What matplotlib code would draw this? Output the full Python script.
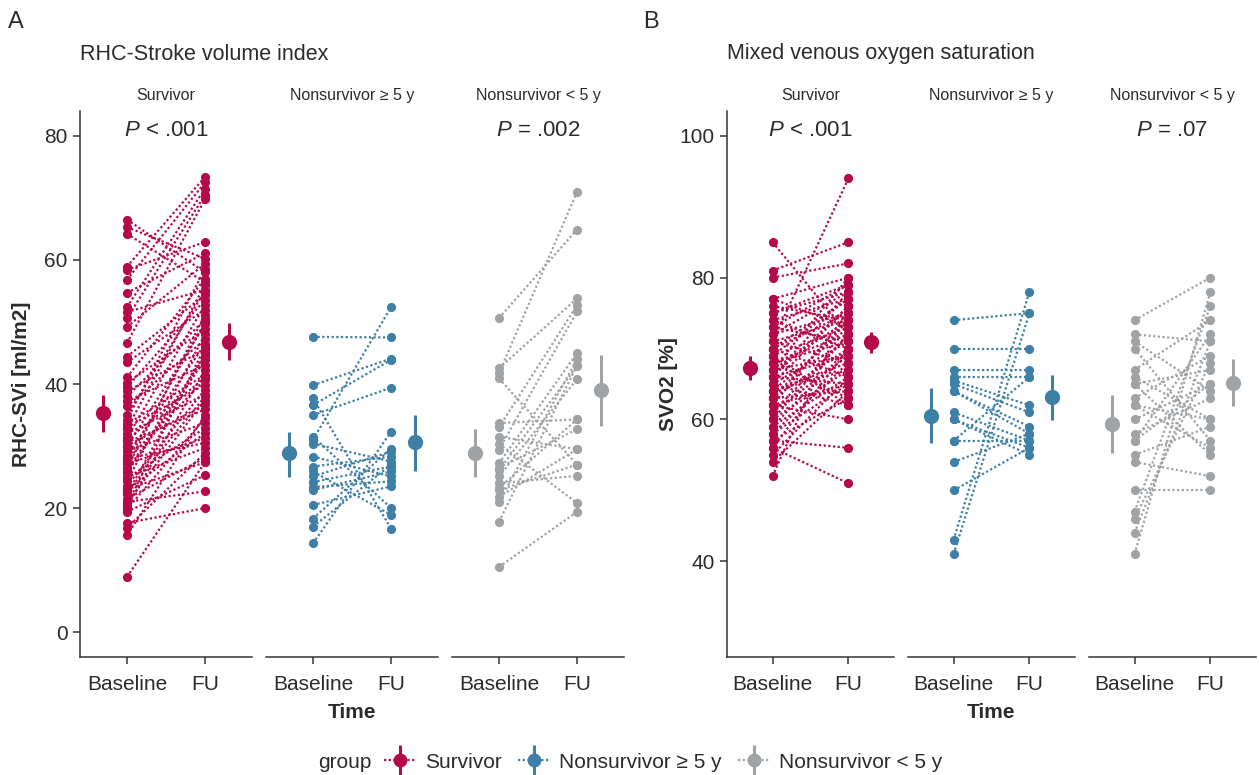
import matplotlib
matplotlib.use("Agg")
import matplotlib.pyplot as plt
from matplotlib.lines import Line2D
from matplotlib.legend_handler import HandlerTuple

plt.rcParams['font.family'] = ['Liberation Sans', 'DejaVu Sans']
plt.rcParams['mathtext.fontset'] = 'custom'
plt.rcParams['mathtext.it'] = 'Liberation Sans:italic'
plt.rcParams['mathtext.rm'] = 'Liberation Sans'

# ---------------- data ----------------
groups = ["Survivor", "Nonsurvivor \u2265 5 y", "Nonsurvivor < 5 y"]
time_labels = ["Baseline", "FU"]
colors = ["#B50A4A", "#3E7FA6", "#A0A3A6"]

# Panel A: RHC-Stroke volume index (paired baseline / FU)
svi_base_surv = [66.5, 65.3, 64.2, 58.9, 58.4, 56.8, 54.7, 52.4, 51.6, 50.6, 49.2, 46.6, 44.4, 43.5,
                 41.1, 40.2, 39.5, 38.8, 38.0, 37.2, 36.4,
                 34.2, 33.5, 32.8, 32.0, 31.3, 30.6, 29.9, 29.2, 28.5, 27.8, 27.1, 26.4, 25.7, 25.0,
                 24.3, 23.6, 22.9, 22.2, 21.5, 20.8, 20.1, 19.4,
                 33.0, 30.0, 28.0, 26.0, 24.8, 23.0, 21.0, 19.8, 17.6, 16.8, 15.6, 8.9,
                 35.0, 31.0, 27.5, 22.5, 20.5]
svi_fu_surv = [58.0, 60.2, 56.4, 73.4, 62.9, 72.5, 61.1, 71.5, 55.2, 70.5, 59.4, 69.8, 54.4, 52.0,
               57.0, 48.8, 53.6, 45.6, 50.4, 43.1, 47.2,
               58.6, 41.5, 56.0, 38.3, 52.8, 35.9, 49.6, 33.7, 46.4, 40.7, 31.3, 51.2, 43.9, 29.7,
               48.0, 39.1, 32.1, 45.0, 28.1, 37.5, 42.3, 25.3,
               39.9, 36.7, 30.5, 44.5, 32.9, 27.4, 22.7, 34.5, 20.0, 28.9, 35.0, 27.4,
               55.0, 41.0, 50.0, 38.0, 46.0]
svi_base_ns5 = [47.6, 39.8, 37.7, 36.6, 35.0, 31.5, 31.0, 30.4, 28.3, 26.7, 25.9, 25.1, 24.2,
                23.4, 22.9, 20.5, 18.3, 17.0, 14.3]
svi_fu_ns5 = [47.5, 44.1, 16.7, 43.9, 39.4, 20.0, 52.4, 27.5, 25.1, 28.3, 18.9, 29.1, 26.7,
              24.3, 25.9, 23.5, 29.6, 27.0, 32.3]
svi_base_nsl = [50.6, 42.5, 41.7, 40.9, 33.7, 33.0, 31.5, 30.4, 29.4, 27.2, 26.5, 26.1, 25.1,
                24.0, 23.2, 22.9, 21.8, 21.0, 17.8, 10.5]
svi_fu_nsl = [64.9, 53.8, 71.0, 27.0, 34.3, 52.7, 29.5, 20.8, 51.7, 45.0, 32.7, 42.9, 40.8,
              25.2, 34.3, 27.0, 29.5, 44.0, 43.0, 19.4]
# group means with 95% CI (baseline, FU) per group
svi_mean = [(35.3, 46.8), (28.8, 30.6), (28.9, 39.0)]
svi_lo = [(32.3, 43.9), (25.0, 26.0), (25.0, 33.2)]
svi_hi = [(38.2, 49.8), (32.3, 35.0), (32.7, 44.7)]

# Panel B: mixed venous oxygen saturation
svo2_base_surv = [85, 81, 80, 52, 77, 76, 75, 74, 73, 72, 71, 70, 69, 68, 67, 66, 65, 64, 63, 62,
                  61, 60, 59, 58, 57, 56, 55, 54,
                  77, 75, 73, 72, 71, 70, 70, 69, 68, 68, 67, 67, 66, 66, 65, 65, 64, 64, 63, 63,
                  62, 61, 60, 59, 58, 57, 56, 66, 69, 71, 62, 74]
svo2_fu_surv = [72, 85, 82, 76, 80, 74, 78, 70, 79, 75, 94, 77, 73, 71, 80, 69, 76, 68, 74, 60,
                72, 67, 70, 65, 56, 51, 66, 64,
                73, 79, 71, 78, 68, 75, 66, 77, 72, 63, 74, 69, 76, 65, 71, 62, 73, 67, 70, 64,
                75, 69, 72, 66, 68, 63, 70, 78, 62, 74, 65, 77]
svo2_base_ns5 = [74, 70, 67, 66, 65.5, 65, 64, 64, 61, 60, 60, 57, 57, 54, 50, 43, 41]
svo2_fu_ns5 = [75, 70, 67, 66, 62, 61, 59, 58, 57, 56, 55, 57, 66, 58, 56, 78, 75]
svo2_base_nsl = [74, 72, 71, 70, 67, 66, 65, 63, 62, 60, 58, 57, 55, 54, 50, 47, 46, 44, 41, 65, 62, 57]
svo2_fu_nsl = [80, 71, 64, 57, 74, 60, 55, 69, 56, 65, 63, 72, 59, 52, 50, 76, 68, 71, 78, 67, 60, 65]
svo2_mean = [(67.3, 70.9), (60.5, 63.1), (59.4, 65.2)]
svo2_lo = [(65.6, 69.4), (56.7, 59.9), (55.3, 61.9)]
svo2_hi = [(69.0, 72.3), (64.5, 66.3), (63.5, 68.5)]

p_labels_A = ["$P$ < .001", "", "$P$ = .002"]
p_labels_B = ["$P$ < .001", "", "$P$ = .07"]

# ---------------- figure ----------------
W, H = 1259, 775
fig = plt.figure(figsize=(W / 100, H / 100), dpi=100)
TXT = "#2b2b2b"
AX = "#333333"


def px_axes(x0, x1, y_top=111, y_bot=657):
    return fig.add_axes([x0 / W, (H - y_bot) / H, (x1 - x0) / W, (y_bot - y_top) / H])


def draw_panel(xs, base_list, fu_list, means, los, his, ylim, yticks, p_labels):
    axes = []
    for i, (x0, x1) in enumerate(xs):
        ax = px_axes(x0, x1)
        c = colors[i]
        b, f = base_list[i], fu_list[i]
        for bv, fv in zip(b, f):
            ax.plot([1, 2], [bv, fv], ls=(0, (1, 1.1)), lw=1.6, color=c, zorder=2)
        ax.plot([1] * len(b), b, 'o', ms=6.6, color=c, mec='none', zorder=3)
        ax.plot([2] * len(f), f, 'o', ms=6.6, color=c, mec='none', zorder=3)
        for j, xm in enumerate([0.7, 2.3]):
            ax.plot([xm, xm], [los[i][j], his[i][j]], color=c, lw=2.2, solid_capstyle='butt', zorder=3)
            ax.plot([xm], [means[i][j]], 'o', ms=11, color=c, mec='none', zorder=4)
        ax.set_xlim(0.4, 2.6)
        ax.set_ylim(*ylim)
        ax.set_xticks([1, 2])
        ax.set_xticklabels(time_labels)
        ax.set_yticks(yticks)
        for s in ['top', 'right']:
            ax.spines[s].set_visible(False)
        ax.spines['bottom'].set_color(AX)
        ax.spines['bottom'].set_linewidth(1.1)
        ax.spines['left'].set_color(AX)
        ax.spines['left'].set_linewidth(1.1)
        ax.tick_params(axis='both', colors=AX, labelcolor=TXT, labelsize=15, length=5, width=1.1)
        ax.tick_params(axis='x', pad=8)
        ax.tick_params(axis='y', pad=4)
        if i > 0:
            ax.spines['left'].set_visible(False)
            ax.tick_params(axis='y', left=False, labelleft=False)
        ax.text(0.5, 1 + 16 / 546, groups[i], transform=ax.transAxes, ha='center', va='center',
                fontsize=11.5, color=TXT)
        if p_labels[i]:
            ax.text(1.5, ylim[1] - (ylim[1] - ylim[0]) * 19 / 546, p_labels[i], ha='center', va='center',
                    fontsize=16, color=TXT)
        axes.append(ax)
    return axes


axA = draw_panel([(80, 252), (266, 438), (452, 624)],
                 [svi_base_surv, svi_base_ns5, svi_base_nsl],
                 [svi_fu_surv, svi_fu_ns5, svi_fu_nsl],
                 svi_mean, svi_lo, svi_hi, (-4, 84), [0, 20, 40, 60, 80], p_labels_A)
axB = draw_panel([(727, 894), (908, 1075), (1089, 1256)],
                 [svo2_base_surv, svo2_base_ns5, svo2_base_nsl],
                 [svo2_fu_surv, svo2_fu_ns5, svo2_fu_nsl],
                 svo2_mean, svo2_lo, svo2_hi, (26.5, 103.5), [40, 60, 80, 100], p_labels_B)


def ftext(x, y, s, **kw):
    fig.text(x / W, 1 - y / H, s, **kw)


ftext(8, 22, "A", fontsize=17, color=TXT, ha='left', va='center')
ftext(643, 22, "B", fontsize=17, color=TXT, ha='left', va='center')
ftext(80, 54, "RHC-Stroke volume index", fontsize=15.5, color=TXT, ha='left', va='center')
ftext(727, 54, "Mixed venous oxygen saturation", fontsize=15.5, color=TXT, ha='left', va='center')
ftext(22, 384, "RHC-SVi [ml/m2]", fontsize=15, fontweight='bold', color=TXT, rotation=90,
      ha='center', va='center')
ftext(668, 384, "SVO2 [%]", fontsize=15, fontweight='bold', color=TXT, rotation=90,
      ha='center', va='center')
ftext(352, 713, "Time", fontsize=15, fontweight='bold', color=TXT, ha='center', va='center')
ftext(991, 713, "Time", fontsize=15, fontweight='bold', color=TXT, ha='center', va='center')

# legend
handles = []
for c in colors:
    h_line = Line2D([], [], ls=(0, (1, 1.1)), lw=1.6, color=c)
    h_bar = Line2D([], [], ls='none', marker='|', ms=22, mew=2.2, color=c)
    h_pt = Line2D([], [], ls='none', marker='o', ms=10, color=c, mec='none')
    handles.append((h_line, h_bar, h_pt))
ftext(318, 762, "group", fontsize=15, color=TXT, ha='left', va='center')
leg = fig.legend(handles, groups, loc='center', bbox_to_anchor=((380 + 946) / 2 / W, 1 - 762 / H),
                 ncol=3, frameon=False, fontsize=15, handlelength=1.5, handletextpad=0.45,
                 columnspacing=0.8, handler_map={tuple: HandlerTuple(ndivide=1, pad=0)})
for t in leg.get_texts():
    t.set_color(TXT)

fig.savefig("out.png", dpi=100)
